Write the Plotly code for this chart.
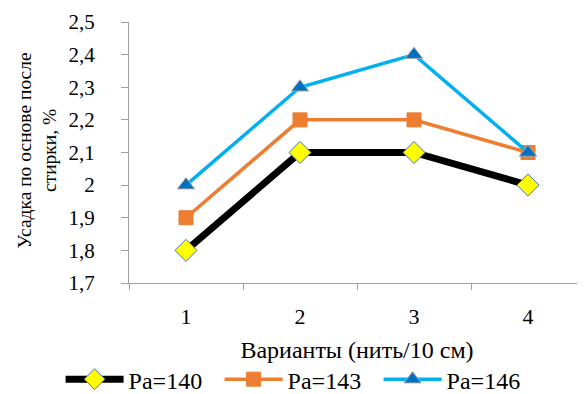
import plotly.graph_objects as go

categories = ["1", "2", "3", "4"]
pa140 = [1.8, 2.1, 2.1, 2.0]
pa143 = [1.9, 2.2, 2.2, 2.1]
pa146 = [2.0, 2.3, 2.4, 2.1]
y_tickvals = [1.7, 1.8, 1.9, 2.0, 2.1, 2.2, 2.3, 2.4, 2.5]
y_ticktext = ["1,7", "1,8", "1,9", "2", "2,1", "2,2", "2,3", "2,4", "2,5"]
series_names = ["Ра=140", "Ра=143", "Ра=146"]

FONT = "Liberation Serif"

fig = go.Figure()
fig.add_trace(go.Scatter(
    x=categories, y=pa140, name=series_names[0], mode="lines+markers",
    line=dict(color="black", width=7),
    marker=dict(symbol="diamond", size=17, color="#FFFF00", line=dict(color="#4472C4", width=1)),
))
fig.add_trace(go.Scatter(
    x=categories, y=pa143, name=series_names[1], mode="lines+markers",
    line=dict(color="#ED7D31", width=3.5),
    marker=dict(symbol="square", size=14, color="#ED7D31", line=dict(color="#ED7D31", width=1)),
))
fig.add_trace(go.Scatter(
    x=categories, y=pa146, name=series_names[2], mode="lines+markers",
    line=dict(color="#00B0F0", width=3.5),
    marker=dict(symbol="triangle-up", size=15, color="#0070C0", line=dict(color="#A5A5A5", width=1)),
))

# the page body adds an 8 px offset, so the figure is drawn 8 px smaller
fig.update_layout(
    width=577, height=386,
    margin=dict(l=121, r=0, t=14, b=111, autoexpand=False),
    paper_bgcolor="white", plot_bgcolor="white",
    font=dict(family=FONT, size=21, color="black"),
    showlegend=True,
    legend=dict(orientation="h", x=-0.15, xanchor="left",
                y=-0.37, yanchor="middle",
                font=dict(size=24, family=FONT), itemwidth=58,
                entrywidth=86, entrywidthmode="pixels", tracegroupgap=0,
                bgcolor="rgba(0,0,0,0)"),
    xaxis=dict(type="category", range=[-0.5, 3.5], tickson="boundaries", ticks="outside", ticklen=6,
               tickcolor="#A0A0A0", showline=True, linecolor="#A0A0A0", linewidth=1,
               showgrid=False, zeroline=False, tickfont=dict(size=22), ticklabelstandoff=14,
               title=dict(text="Варианты (нить/10 см)", font=dict(size=24), standoff=12)),
    yaxis=dict(range=[1.7, 2.5], tickvals=y_tickvals, ticktext=y_ticktext,
               ticks="outside", ticklen=7, tickcolor="#A0A0A0", showline=True,
               linecolor="#A0A0A0", linewidth=1, showgrid=False, zeroline=False,
               tickfont=dict(size=21), ticklabelstandoff=22),
    annotations=[dict(text="Усадка по основе после<br>стирки, %", textangle=-90,
                      xref="paper", yref="paper", x=-0.2028, y=0.506,
                      xanchor="center", yanchor="middle", showarrow=False,
                      font=dict(size=19.5, family=FONT))],
)

fig.write_html("out.html")
